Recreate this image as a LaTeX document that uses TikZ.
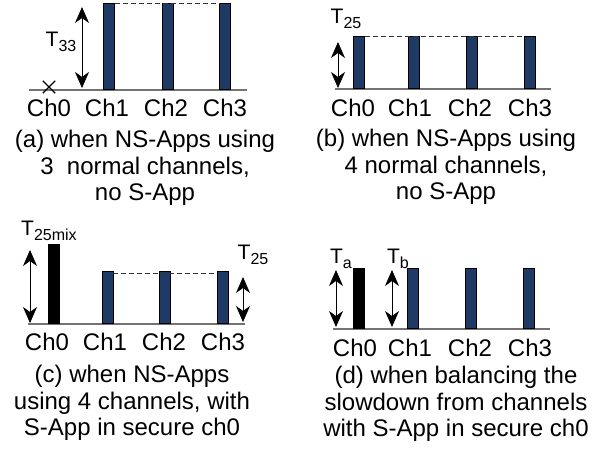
\documentclass[tikz,border=0pt]{standalone}
\usepackage{fontspec}
\setmainfont{Liberation Sans}
\usetikzlibrary{positioning,arrows.meta,shapes.misc}

\definecolor{navy}{RGB}{31,58,100}
\newcommand{\Tlab}[1]{T\raisebox{-0.45ex}{\fontsize{16}{16}\selectfont #1}}

\begin{document}
\begin{tikzpicture}[x=1pt,y=-1pt]
            \tikzstyle{axis}    = [draw=black!55, line width=1.3pt]
            \tikzstyle{nbar}    = [draw=black, fill=navy, line width=0.6pt, minimum width=11pt, inner sep=0pt, anchor=south]
            \tikzstyle{sbar}    = [draw=black, fill=black, line width=0.6pt, minimum width=11pt, inner sep=0pt, anchor=south]
            \tikzstyle{level}   = [draw=black!80, dashed, dash pattern=on 5pt off 3pt, line width=0.9pt]
            \tikzstyle{dimarr}  = [{Stealth[length=16pt,width=14pt,inset=5pt]}-{Stealth[length=16pt,width=14pt,inset=5pt]}, line width=0.8pt]
            \tikzstyle{chan}    = [font=\fontsize{24}{27}\selectfont, inner sep=0pt]
            \tikzstyle{tlab}    = [font=\fontsize{21}{21}\selectfont, inner sep=0pt]
            \tikzstyle{caption} = [font=\fontsize{24}{26.5}\selectfont, align=center, inner sep=0pt]

            \useasboundingbox (0,0) rectangle (606,453);

            % (a)
            \coordinate (axA0) at (29,90);
            \coordinate (axA1) at (247,90);
            \draw[axis] (axA0) -- (axA1);
            \node[nbar, minimum height=86pt] (a1) at (109,90) {};
            \node[nbar, minimum height=86pt] (a2) at (167.5,90) {};
            \node[nbar, minimum height=86pt] (a3) at (225,90) {};
            \draw[level] (a1.north east) -- (a3.north west);
            \node[cross out, draw, line width=1.4pt, minimum size=11pt, inner sep=0pt] (a0x) at (49,87) {};
            \coordinate (dA0) at (82,7);
            \coordinate (dA1) at (82,88);
            \draw[dimarr] (dA0) -- (dA1);
            \node[tlab] (tA) at (61,42) {\Tlab{33}};
            \node[chan] (chA0) at (49,108) {Ch0};
            \node[chan] (chA1) at (107,108) {Ch1};
            \node[chan] (chA2) at (166,108) {Ch2};
            \node[chan] (chA3) at (225,108) {Ch3};
            \node[caption] (capA) at (145,168) {(a) when NS-Apps using\\3~~normal channels,\\no S-App};

            % (b)
            \coordinate (axB0) at (335,89);
            \coordinate (axB1) at (551,89);
            \draw[axis] (axB0) -- (axB1);
            \node[nbar, minimum height=52pt] (b0) at (359,89) {};
            \node[nbar, minimum height=52pt] (b1) at (414,89) {};
            \node[nbar, minimum height=52pt] (b2) at (471.5,89) {};
            \node[nbar, minimum height=52pt] (b3) at (529.5,89) {};
            \draw[level] (b0.north east) -- (b3.north west);
            \coordinate (dB0) at (338,42);
            \coordinate (dB1) at (338,88);
            \draw[dimarr] (dB0) -- (dB1);
            \node[tlab] (tB) at (346,19) {\Tlab{25}};
            \node[chan] (chB0) at (353,108) {Ch0};
            \node[chan] (chB1) at (410,108) {Ch1};
            \node[chan] (chB2) at (470,108) {Ch2};
            \node[chan] (chB3) at (530,108) {Ch3};
            \node[caption] (capB) at (446,167) {(b) when NS-Apps using\\4 normal channels,\\no S-App};

            % (c)
            \coordinate (axC0) at (28,324);
            \coordinate (axC1) at (245,324);
            \draw[axis] (axC0) -- (axC1);
            \node[sbar, minimum height=79pt] (c0) at (54,324) {};
            \node[nbar, minimum height=52pt] (c1) at (107.5,324) {};
            \node[nbar, minimum height=52pt] (c2) at (165,324) {};
            \node[nbar, minimum height=52pt] (c3) at (223,324) {};
            \draw[level] ([yshift=-2pt]c1.north east) -- ([yshift=-2pt]c3.north west);
            \coordinate (dC0) at (30,250);
            \coordinate (dC1) at (30,323);
            \draw[dimarr] (dC0) -- (dC1);
            \coordinate (dC2) at (243,277);
            \coordinate (dC3) at (243,322);
            \draw[dimarr] (dC2) -- (dC3);
            \node[tlab] (tC0) at (49,231) {\Tlab{25mix}};
            \node[tlab] (tC1) at (253,255) {\Tlab{25}};
            \node[chan] (chC0) at (47,342) {Ch0};
            \node[chan] (chC1) at (105,342) {Ch1};
            \node[chan] (chC2) at (164,342) {Ch2};
            \node[chan] (chC3) at (223,342) {Ch3};
            \node[caption] (capC) at (132,403) {(c) when NS-Apps\\using 4 channels, with\\S-App in secure ch0};

            % (d)
            \coordinate (axD0) at (333,329);
            \coordinate (axD1) at (550,329);
            \draw[axis] (axD0) -- (axD1);
            \node[sbar, minimum height=60pt] (d0) at (359,329) {};
            \node[nbar, minimum height=60pt] (d1) at (413,329) {};
            \node[nbar, minimum height=60pt] (d2) at (470.5,329) {};
            \node[nbar, minimum height=60pt] (d3) at (528.5,329) {};
            \coordinate (dD0) at (336,270);
            \coordinate (dD1) at (336,327);
            \draw[dimarr] (dD0) -- (dD1);
            \coordinate (dD2) at (392,270);
            \coordinate (dD3) at (392,327);
            \draw[dimarr] (dD2) -- (dD3);
            \node[tlab] (tD0) at (341,259) {\Tlab{a}};
            \node[tlab] (tD1) at (398,259) {\Tlab{b}};
            \node[chan] (chD0) at (355,348) {Ch0};
            \node[chan] (chD1) at (410,348) {Ch1};
            \node[chan] (chD2) at (470,348) {Ch2};
            \node[chan] (chD3) at (530,348) {Ch3};
            \node[caption] (capD) at (456,404) {(d) when balancing the\\slowdown from channels\\with S-App in secure ch0};
        \end{tikzpicture}
\end{document}
